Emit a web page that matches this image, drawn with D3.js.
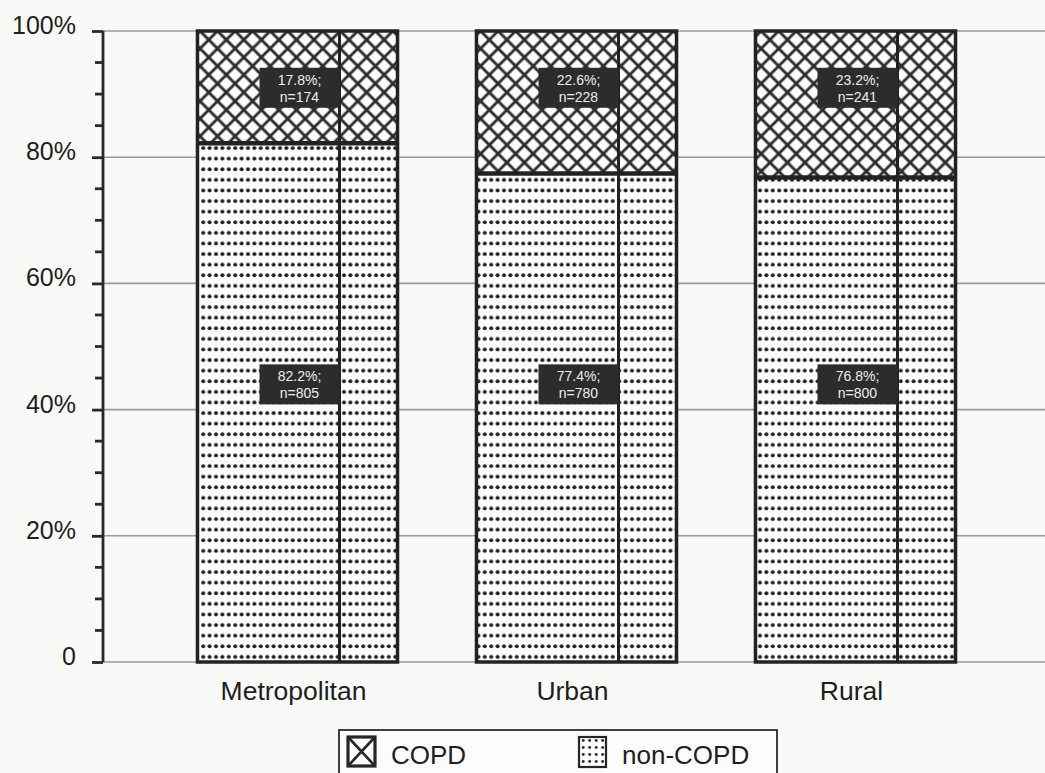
<!DOCTYPE html>
<html><head><meta charset="utf-8">
<script src="https://cdn.jsdelivr.net/npm/d3@7"></script>
<style>
html,body{margin:0;padding:0;background:#f9f9f8;}
svg{display:block;font-family:"Liberation Sans",Arial,sans-serif;}
</style></head>
<body>
<svg id="chart" width="1045" height="773"></svg>
<script>
const categories = ["Metropolitan", "Urban", "Rural"];
const copdPct = [17.8, 22.6, 23.2];
const copdN = [174, 228, 241];
const nonCopdPct = [82.2, 77.4, 76.8];
const nonCopdN = [805, 780, 800];
const yTicks = [0, 20, 40, 60, 80, 100];
const yTickLabels = ["0", "20%", "40%", "60%", "80%", "100%"];
const legendLabels = ["COPD", "non-COPD"];

const svg = d3.select("#chart");
const W = 1045;
const axisX = 103;
const y = d3.scaleLinear().domain([0, 100]).range([662, 31]);
const x = d3.scaleBand().domain(categories).range([158, 995]).paddingInner(0.283).paddingOuter(0.1415);

const defs = svg.append("defs");
const cs = 12.4;
const cross = defs.append("pattern").attr("id", "cross").attr("patternUnits", "userSpaceOnUse")
  .attr("width", cs).attr("height", cs).attr("patternTransform", "translate(200,31) rotate(45)");
cross.append("rect").attr("width", cs).attr("height", cs).attr("fill", "#fdfdfd");
cross.append("path").attr("d", `M0,0H${cs}M0,${cs}H${cs}M0,0V${cs}M${cs},0V${cs}`).attr("stroke", "#2b2b2b").attr("stroke-width", 2.8).attr("fill", "none");

const dots = defs.append("pattern").attr("id", "dots").attr("patternUnits", "userSpaceOnUse")
  .attr("width", 6.4).attr("height", 10.6).attr("patternTransform", "translate(200,143)");
dots.append("rect").attr("width", 6.4).attr("height", 10.6).attr("fill", "#fdfdfd");
dots.append("circle").attr("cx", 3.2).attr("cy", 5).attr("r", 1.95).attr("fill", "#1c1c1c");

const ldots = defs.append("pattern").attr("id", "ldots").attr("patternUnits", "userSpaceOnUse")
  .attr("width", 6.5).attr("height", 7).attr("patternTransform", "translate(580,737)");
ldots.append("rect").attr("width", 6.5).attr("height", 7).attr("fill", "#fdfdfd");
ldots.append("circle").attr("cx", 3.2).attr("cy", 3.5).attr("r", 1.4).attr("fill", "#222");

// gridlines
svg.append("g").selectAll("line").data(yTicks).join("line")
  .attr("x1", axisX).attr("x2", W).attr("y1", d => y(d)).attr("y2", d => y(d))
  .attr("stroke", "#9a9a9a").attr("stroke-width", 1.6);

// y axis
const yAxisMajor = d3.axisLeft(y).tickValues(yTicks).tickSize(11).tickFormat((d, i) => yTickLabels[i]).tickPadding(16);
const gY = svg.append("g").attr("transform", `translate(${axisX},0)`).call(yAxisMajor);
gY.select(".domain").attr("stroke", "#2a2a2a").attr("stroke-width", 2.8).attr("d", `M0,${y(0)}V${y(100)}`);
gY.selectAll(".tick line").attr("stroke", "#2a2a2a").attr("stroke-width", 2.8);
gY.selectAll(".tick text").attr("font-size", 25).attr("fill", "#1e1e1e").attr("dy", "0.1em")
  .attr("font-family", "'Liberation Sans', Arial, sans-serif");
const minor = d3.range(0, 101, 5).filter(v => v % 20 !== 0);
svg.append("g").selectAll("line").data(minor).join("line")
  .attr("x1", axisX - 8).attr("x2", axisX).attr("y1", d => y(d)).attr("y2", d => y(d))
  .attr("stroke", "#2a2a2a").attr("stroke-width", 2.8);

// bars
const bars = svg.append("g").selectAll("g").data(categories).join("g");
bars.append("rect")
  .attr("x", d => x(d)).attr("width", x.bandwidth())
  .attr("y", (d, i) => y(nonCopdPct[i])).attr("height", (d, i) => y(0) - y(nonCopdPct[i]))
  .attr("fill", "url(#dots)");
bars.append("rect")
  .attr("x", d => x(d)).attr("width", x.bandwidth())
  .attr("y", y(100)).attr("height", (d, i) => y(nonCopdPct[i]) - y(100))
  .attr("fill", "url(#cross)");
bars.append("line")
  .attr("x1", d => x(d) + x.bandwidth() * 0.71).attr("x2", d => x(d) + x.bandwidth() * 0.71)
  .attr("y1", y(100)).attr("y2", y(0)).attr("stroke", "#222").attr("stroke-width", 3);
bars.append("line")
  .attr("x1", d => x(d)).attr("x2", d => x(d) + x.bandwidth())
  .attr("y1", (d, i) => y(nonCopdPct[i])).attr("y2", (d, i) => y(nonCopdPct[i]))
  .attr("stroke", "#222").attr("stroke-width", 4.5);
bars.append("rect")
  .attr("x", d => x(d)).attr("width", x.bandwidth())
  .attr("y", y(100)).attr("height", y(0) - y(100))
  .attr("fill", "none").attr("stroke", "#222").attr("stroke-width", 3.5);

// data labels
function addLabel(g, cx, cy, l1, l2) {
  g.append("rect").attr("x", cx - 40).attr("y", cy - 20).attr("width", 80).attr("height", 40).attr("fill", "#2c2c2c");
  g.append("text").attr("x", cx).attr("y", cy - 3).attr("text-anchor", "middle").attr("font-size", 14).attr("fill", "#ededed").text(l1);
  g.append("text").attr("x", cx).attr("y", cy + 14).attr("text-anchor", "middle").attr("font-size", 14).attr("fill", "#ededed").text(l2);
}
bars.each(function (d, i) {
  const g = d3.select(this);
  const cx = x(d) + x.bandwidth() / 2 + 2;
  addLabel(g, cx, y(91), copdPct[i].toFixed(1) + "%;", "n=" + copdN[i]);
  addLabel(g, cx, y(44), nonCopdPct[i].toFixed(1) + "%;", "n=" + nonCopdN[i]);
});

// x labels
svg.append("g").selectAll("text").data(categories).join("text")
  .attr("x", d => x(d) + x.bandwidth() / 2 - 4).attr("y", 700)
  .attr("text-anchor", "middle").attr("font-size", 26.5).attr("fill", "#1e1e1e").text(d => d);

// legend
const lg = svg.append("g");
lg.append("rect").attr("x", 339).attr("y", 730).attr("width", 438).attr("height", 60)
  .attr("fill", "#fcfcfc").attr("stroke", "#2a2a2a").attr("stroke-width", 1.8);
lg.append("rect").attr("x", 348).attr("y", 737).attr("width", 27).attr("height", 29)
  .attr("fill", "#fdfdfd").attr("stroke", "#262626").attr("stroke-width", 3.2);
lg.append("path").attr("d", "M348,737L375,766M375,737L348,766").attr("stroke", "#262626").attr("stroke-width", 2.6);
lg.append("text").attr("x", 391).attr("y", 764).attr("font-size", 26).attr("fill", "#1e1e1e").text(legendLabels[0]);
lg.append("rect").attr("x", 579).attr("y", 737).attr("width", 27).attr("height", 30)
  .attr("fill", "url(#ldots)").attr("stroke", "#262626").attr("stroke-width", 2.2);
lg.append("text").attr("x", 622).attr("y", 764).attr("font-size", 26).attr("fill", "#1e1e1e").text(legendLabels[1]);
</script>
</body></html>
